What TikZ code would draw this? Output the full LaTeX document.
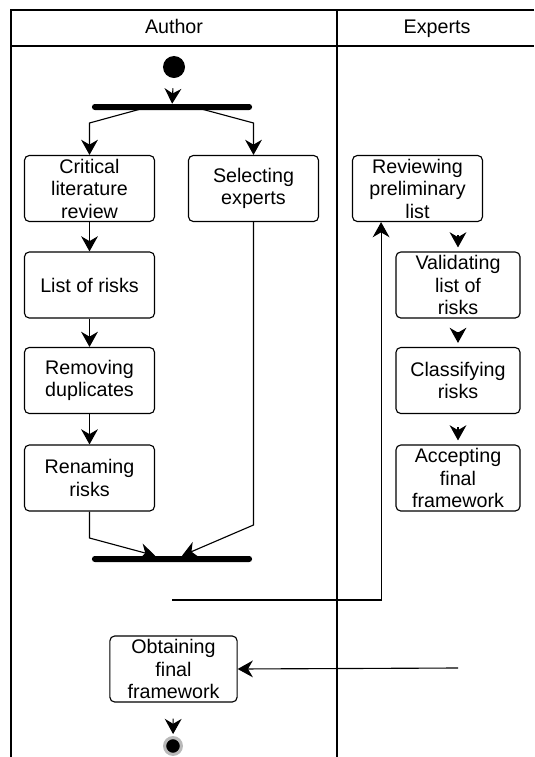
\documentclass[tikz,border=0pt]{standalone}
\usepackage{fontspec}
\setmainfont{Liberation Sans}
\usetikzlibrary{arrows.meta,positioning}
\tikzset{
	act/.style = {
		draw,
		rounded corners = 0.12cm,
		minimum width   = 3.25cm,
		minimum height  = 1.65cm,
		align           = center,
		inner sep       = 0pt,
		font            = \fontsize{14}{16}\selectfont,
		thick
	},
	expact/.style = {act, minimum width = 3.1cm},
	bar/.style    = {fill = black, rounded corners = 0.07cm, minimum width = 4cm, minimum height = 0.15cm, inner sep = 0pt},
	lane/.style   = {line width = 0.9pt},
	arr/.style    = {thick, -{Stealth[length=3.8mm,width=4.2mm]}},
	head/.style   = {font = \fontsize{14}{16}\selectfont, text height = 10pt, text depth = 3pt}
}

\begin{document}
\begin{tikzpicture}[x = 0.025cm, y = -0.025cm]
		\useasboundingbox (0,0) rectangle (534,757);
		% swimlanes
		\draw[lane] (534,10) -- (11,10) -- (11,757);
		\draw[lane] (11,46) -- (534,46);
		\draw[lane] (337,10) -- (337,757);
		\node(hAuthor) [head] at (174,29) {Author};
		\node(hExperts) [head] at (437,29) {Experts};
		% start, fork and join
		\node(start) [circle, fill = black, minimum size = 0.55cm, inner sep = 0pt] at (174,67) {};
		\node(fork) [bar] at (172,107) {};
		\node(join) [bar] at (172,559) {};
		% activities of the author
		\node(crit)   [act] at (89.5,188.5) {Critical\\literature\\review};
		\node(sel)    [act] at (253.5,188.5) {Selecting\\experts};
		\node(list)   [act] at (89.5,285) {List of risks};
		\node(remdup) [act] at (89.5,380.5) {Removing\\duplicates};
		\node(ren)    [act] at (89.5,478) {Renaming\\risks};
		\node(obt)    [act, minimum width = 3.18cm] at (173.5,669) {Obtaining\\final\\framework};
		% activities of the experts
		\node(rev) [act] at (417.5,188.5) {Reviewing\\preliminary\\list};
		\node(val) [expact] at (458,285) {Validating\\list of\\risks};
		\node(cls) [expact] at (458,380.5) {Classifying\\risks};
		\node(acc) [expact] at (458,478) {Accepting\\final\\framework};
		% end
		\node(stop) [circle, fill = black, draw = gray!55, line width = 2.2pt, minimum size = 0.42cm, inner sep = 0pt] at (173,746) {};
		\coordinate(loopA) at (172,600);
		\coordinate(loopB) at (458,668);
		
		\draw[arr, shorten <= 0.25cm] (start) -- (fork);
		\draw[arr] ([xshift=-0.6cm]fork.center) -- (crit.north |- 0,123) -- (crit.north);
		\draw[arr] ([xshift=0.55cm]fork.center) -- (sel.north |- 0,123) -- (sel.north);
		\foreach \a/\b in {crit/list, list/remdup, remdup/ren} \draw[arr] (\a) -- (\b);
		\draw[arr] (ren.south) -- (ren.south |- 0,538) -- ([xshift=-0.42cm]join.north);
		\draw[arr] (sel.south) -- (sel.south |- 0,525) -- ([xshift=0.25cm]join.north);
		\draw[arr] (loopA) -| ([xshift=-0.91cm]rev.south);
		\foreach \a/\b in {rev/val, val/cls, cls/acc} \draw[arr, shorten <= 0.33cm, shorten >= 0.1cm] (\a.south -| \b.north) -- (\b.north);
		\draw[arr] (loopB) -- (obt.east);
		\draw[arr, shorten <= 0.4cm, shorten >= 0.05cm] (obt) -- (stop);
		
	\end{tikzpicture}
\end{document}
